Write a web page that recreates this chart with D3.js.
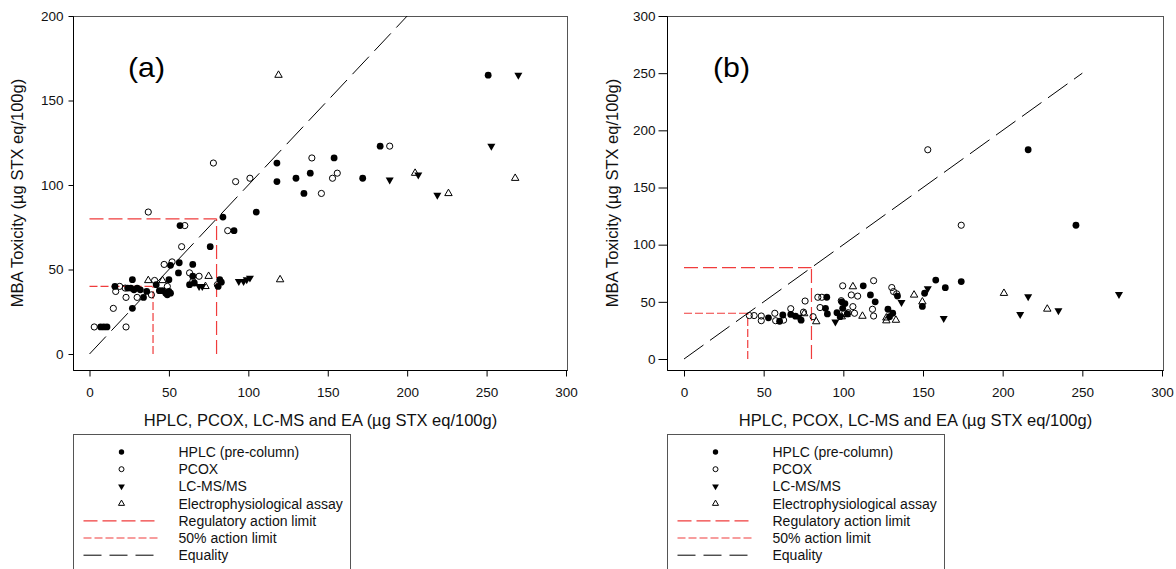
<!DOCTYPE html>
<html>
<head>
<meta charset="utf-8">
<script src="https://cdn.jsdelivr.net/npm/d3@7"></script>
<style>
  body { margin: 0; background: #fff; }
  svg { display: block; font-family: "Liberation Sans", Arial, sans-serif; }
</style>
</head>
<body>
<svg id="chart" width="1176" height="569"></svg>
<script>
// panel (a) points, [method value, MBA value]
const hplcA = [
  [7,16],[9,16],[11,16],[27,27],[16,40],[27,44],[24,39],[26,39],[28,38],[30,39],[32,38],[34,33.5],[36,37],
  [42,41],[44,37.5],[46,37.5],[48,36],[50,37],[50,44],[49,35],[51,36],[51,52.5],[56.5,54],[65,53],
  [56,48],[65,46],[63,41],[66,42],[76,63.5],[57,76],[81,40],[82,44],[83,42.5],[84,81],[91,73],
  [105,84],[118,113],[118,102],[130,104],[135,95],[139,107],[154,116],[172,104],[183,123],[251,165]
];
const pcoxA = [
  [3,16],[23,16],[15,27],[16.5,37],[23,33.5],[19,40],[22.5,39],[30,33.5],[39,35],[41,43.5],[49,40],
  [47,53],[52,54.5],[63,48],[69,46],[58,63.5],[60,76],[37,84],[65,43],[80.5,41],[87,73],
  [78,113],[92,102],[101,104],[140,116],[146,95],[153,104],[156,107],[189,123]
];
const lcmsA = [[69,40],[71,40],[94,43],[97,43],[99,44],[101,45],[189,103],[207,106],[219,94],[253,123],[270,165]];
const eaA = [[37,43.5],[46,43.5],[75,46],[73,40],[120,44],[119,165],[205,107],[226,95],[268,104]];

// panel (b) points
const hplcB = [
  [53,36],[60,33],[62,38.5],[67,39],[70,37.5],[73.5,34],[89.6,54],[88.8,44.3],[90,39.4],[96,40.5],[98,37],
  [99,50],[101,48.5],[99.6,44.3],[102.5,39.4],[112.5,64],[117,56],[120,50],[128,43.5],[131,40],[129,37],
  [134,55],[149.6,46],[151,57.5],[158,69],[164,62.4],[174,67.7],[216,183],[246,117]
];
const pcoxB = [
  [41,38],[44,38],[48.5,37.6],[48.5,33.5],[57,40],[57.5,33.5],[62.5,34],[67,44],[75,41],[76,50.7],[81,37],
  [84,54],[86.5,54],[85.4,45],[99.6,64],[98.7,51],[105,56],[109,55],[103,40.5],[106,45.8],[107,40],
  [118.3,43.5],[119,37.6],[119,68.5],[130.4,62.5],[131.5,59],[133.5,57],[153,183],[174,117]
];
const lcmsB = [[72,36.6],[95,32.5],[136.5,49.5],[153,61.5],[163,35.6],[211,39],[216,54.5],[235,42.3],[273,56.6]];
const eaB = [[75.4,39.7],[83,32.7],[99,37],[102,39],[106,63.3],[112,37.5],[127,36],[127,33.5],[133,34],
  [144.4,56],[149.6,50],[200.8,57.5],[228,43.7]];

const equalityA = [[0,0],[200,200]];
const equalityB = [[0,0],[250,250]];
const regLimit = 80;
const halfLimit = 40;

const xTicks = [0,50,100,150,200,250,300];
const yTicksA = [0,50,100,150,200];
const yTicksB = [0,50,100,150,200,250,300];

const legendLabels = ["HPLC (pre-column)","PCOX","LC-MS/MS","Electrophysiological assay",
  "Regulatory action limit","50% action limit","Equality"];

const xTitle = "HPLC, PCOX, LC-MS and EA (µg STX eq/100g)";
const yTitle = "MBA Toxicity (µg STX eq/100g)";

const RED = "#f03c3c";
const svg = d3.select("#chart");

const triUp = d3.symbol().type(d3.symbolTriangle).size(24)();
const triDown = d3.symbol().type(d3.symbolTriangle).size(28)();
const triUpSm = d3.symbol().type(d3.symbolTriangle).size(16)();
const triDownSm = d3.symbol().type(d3.symbolTriangle).size(20)();

function panel(o) {
  const g = svg.append("g");
  const x = d3.scaleLinear().domain([0, 300]).range(o.xr);
  const y = d3.scaleLinear().domain([0, o.ymax]).range(o.yr);

  // frame
  g.append("rect")
    .attr("x", o.left).attr("y", 16.5)
    .attr("width", o.right - o.left).attr("height", 370.5 - 16.5)
    .attr("fill", "none").attr("stroke", "#555").attr("stroke-width", 1);
  g.append("path")
    .attr("d", `M${o.left},16.5V370.5H${o.right}`)
    .attr("fill", "none").attr("stroke", "#000").attr("stroke-width", 1);

  // axes
  const xa = g.append("g").attr("transform", "translate(0,370.5)")
    .call(d3.axisBottom(x).tickValues(xTicks).tickSize(6).tickPadding(10.5));
  const ya = g.append("g").attr("transform", `translate(${o.left},0)`)
    .call(d3.axisLeft(y).tickValues(o.yTicks).tickSize(o.ytick).tickPadding(o.ypad));
  [xa, ya].forEach(a => {
    a.select(".domain").remove();
    a.selectAll("text").attr("font-size", 13.5).attr("fill", "#111")
      .attr("font-family", "Liberation Sans, Arial, sans-serif");
    a.selectAll("line").attr("stroke", "#000");
  });

  // limit lines
  const lim = (v, dash) => {
    g.append("line").attr("x1", x(0)).attr("x2", x(v)).attr("y1", y(v)).attr("y2", y(v))
      .attr("stroke", RED).attr("stroke-width", 1.2).attr("stroke-dasharray", dash);
    g.append("line").attr("x1", x(v)).attr("x2", x(v)).attr("y1", y(0)).attr("y2", y(v))
      .attr("stroke", RED).attr("stroke-width", 1.2).attr("stroke-dasharray", dash);
  };
  lim(regLimit, "14,5");
  lim(halfLimit, "8,3");

  // equality line
  g.append("path")
    .attr("d", d3.line().x(d => x(d[0])).y(d => y(d[1]))(o.eq))
    .attr("fill", "none").attr("stroke", "#000").attr("stroke-width", 1)
    .attr("stroke-dasharray", "24,8");

  // points
  g.selectAll(null).data(o.hplc).enter().append("circle")
    .attr("cx", d => x(d[0])).attr("cy", d => y(d[1])).attr("r", 3.4).attr("fill", "#000");
  g.selectAll(null).data(o.pcox).enter().append("circle")
    .attr("cx", d => x(d[0])).attr("cy", d => y(d[1])).attr("r", 3.1)
    .attr("fill", "none").attr("stroke", "#000").attr("stroke-width", 1);
  g.selectAll(null).data(o.lcms).enter().append("path")
    .attr("d", triDown)
    .attr("transform", d => `translate(${x(d[0])},${y(d[1])}) rotate(180)`)
    .attr("fill", "#000");
  g.selectAll(null).data(o.ea).enter().append("path")
    .attr("d", triUp)
    .attr("transform", d => `translate(${x(d[0])},${y(d[1])})`)
    .attr("fill", "none").attr("stroke", "#000").attr("stroke-width", 1);

  // panel letter
  g.append("text").attr("x", o.labelX).attr("y", 77)
    .attr("font-size", 28).attr("textLength", 37).attr("lengthAdjust", "spacingAndGlyphs")
    .text(o.label);

  // axis titles
  const cx = (o.left + o.right) / 2;
  g.append("text").attr("x", cx).attr("y", 426).attr("text-anchor", "middle")
    .attr("font-size", 16.5).attr("fill", "#111").text(xTitle);
  g.append("text").attr("transform", `translate(${o.ytitleX},193) rotate(-90)`)
    .attr("text-anchor", "middle").attr("font-size", 16.5).attr("fill", "#111").text(yTitle);

  // legend
  const lg = g.append("g").attr("transform", `translate(${o.left},434.5)`);
  lg.append("rect").attr("x", 0).attr("y", 0).attr("width", 277).attr("height", 200)
    .attr("fill", "none").attr("stroke", "#555").attr("stroke-width", 1);
  const rowY = i => 17.5 + i * 17.2;
  lg.append("circle").attr("cx", 48).attr("cy", rowY(0)).attr("r", 2.7).attr("fill", "#000");
  lg.append("circle").attr("cx", 48).attr("cy", rowY(1)).attr("r", 2.5)
    .attr("fill", "none").attr("stroke", "#000").attr("stroke-width", 1);
  lg.append("path").attr("d", triDownSm).attr("transform", `translate(48,${rowY(2)}) rotate(180)`).attr("fill", "#000");
  lg.append("path").attr("d", triUpSm).attr("transform", `translate(48,${rowY(3)})`)
    .attr("fill", "none").attr("stroke", "#000").attr("stroke-width", 1);
  lg.append("line").attr("x1", 10).attr("x2", 82).attr("y1", rowY(4)).attr("y2", rowY(4))
    .attr("stroke", RED).attr("stroke-width", 1.2).attr("stroke-dasharray", "14,5");
  lg.append("line").attr("x1", 10).attr("x2", 86).attr("y1", rowY(5)).attr("y2", rowY(5))
    .attr("stroke", RED).attr("stroke-width", 1.2).attr("stroke-dasharray", "8,3");
  lg.append("line").attr("x1", 10).attr("x2", 80).attr("y1", rowY(6)).attr("y2", rowY(6))
    .attr("stroke", "#000").attr("stroke-width", 1).attr("stroke-dasharray", "18,8");
  lg.selectAll(null).data(legendLabels).enter().append("text")
    .attr("x", 105).attr("y", (d, i) => rowY(i) + 5)
    .attr("font-size", 14).attr("fill", "#111").text(d => d);
}

panel({
  left: 73.5, right: 567.5, xr: [89.5, 566], ymax: 200, yr: [354, 16], yTicks: yTicksA,
  ytick: 5, ypad: 5, eq: equalityA,
  hplc: hplcA, pcox: pcoxA, lcms: lcmsA, ea: eaA,
  label: "(a)", labelX: 128, ytitleX: 23
});
panel({
  left: 667.5, right: 1163.5, xr: [684, 1162], ymax: 300, yr: [359, 16], yTicks: yTicksB,
  ytick: 9, ypad: 3, eq: equalityB,
  hplc: hplcB, pcox: pcoxB, lcms: lcmsB, ea: eaB,
  label: "(b)", labelX: 713, ytitleX: 618
});
</script>
</body>
</html>
